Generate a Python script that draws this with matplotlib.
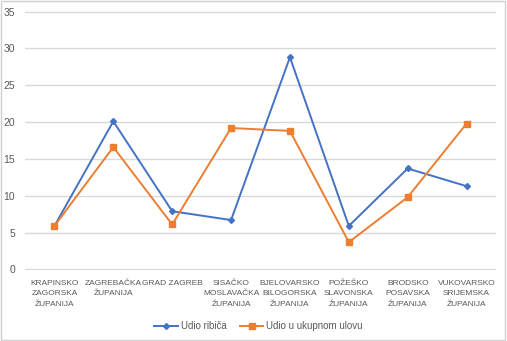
import matplotlib
matplotlib.use("Agg")
import matplotlib.pyplot as plt
from matplotlib.patches import Rectangle

# Udio ribiča i udio u ukupnom ulovu po županijama (%)
zupanije = [
    "KRAPINSKO\nZAGORSKA\nŽUPANIJA",
    "ZAGREBAČKA\nŽUPANIJA",
    "GRAD ZAGREB",
    "SISAČKO\nMOSLAVAČKA\nŽUPANIJA",
    "BJELOVARSKO\nBILOGORSKA\nŽUPANIJA",
    "POŽEŠKO\nSLAVONSKA\nŽUPANIJA",
    "BRODSKO\nPOSAVSKA\nŽUPANIJA",
    "VUKOVARSKO\nSRIJEMSKA\nŽUPANIJA",
]
udio_ribica = [5.9, 20.1, 7.9, 6.7, 28.8, 5.9, 13.7, 11.3]
udio_ulov = [5.9, 16.6, 6.1, 19.2, 18.8, 3.7, 9.8, 19.8]
y_ticks = [0, 5, 10, 15, 20, 25, 30, 35]

plt.rcParams['font.family'] = ['Liberation Sans', 'DejaVu Sans']

fig = plt.figure(figsize=(5.07, 3.41), dpi=100)
ax = fig.add_axes([25 / 507, 71 / 341, 471 / 507, 259 / 341])

x = list(range(len(zupanije)))
ax.plot(x, udio_ribica, color='#4472C4', lw=1.4, marker='D', ms=3,
        label='Udio ribiča')
ax.plot(x, udio_ulov, color='#ED7D31', lw=1.4, marker='s', ms=4.5,
        label='Udio u ukupnom ulovu')

ax.set_xlim(-0.5, len(zupanije) - 0.5)
ax.set_ylim(-0.08, 35.08)
ax.set_yticks(y_ticks)
ax.set_xticks(x)
ax.set_xticklabels(zupanije, fontsize=6, color='#595959', linespacing=1.75)
ax.tick_params(axis='y', labelsize=7.5, labelcolor='#595959', length=0, pad=7)
ax.tick_params(axis='x', length=0, pad=7)
ax.grid(axis='y', color='#D9D9D9', lw=1)
ax.set_axisbelow(True)
for s in ax.spines.values():
    s.set_visible(False)

fig.legend(loc='center', bbox_to_anchor=(0.51, 0.043), ncol=2, frameon=False,
           fontsize=7, labelcolor='#595959', handlelength=2.4, columnspacing=1.4,
           handletextpad=0.3)

fig.add_artist(Rectangle((0.002, 0.003), 0.995, 0.994, transform=fig.transFigure,
                         fill=False, edgecolor='#D0D0D0', lw=1))

fig.savefig('out.png', dpi=100)
